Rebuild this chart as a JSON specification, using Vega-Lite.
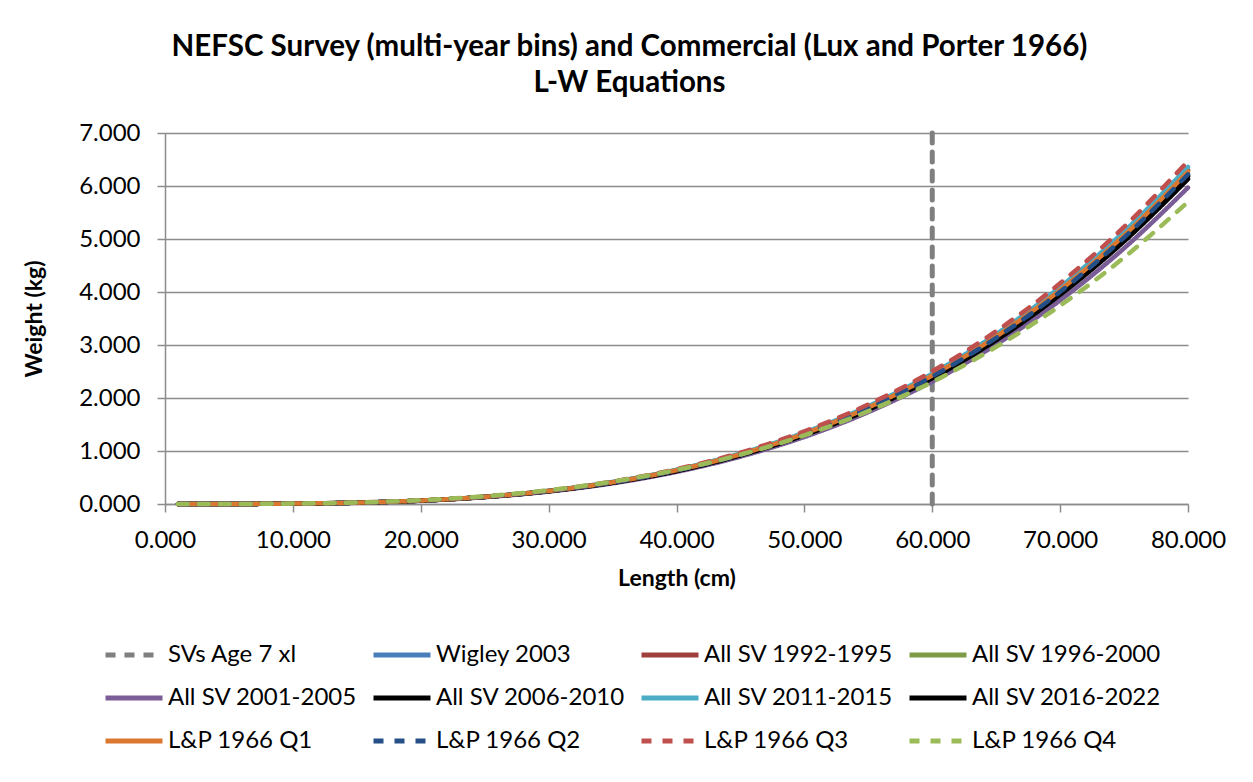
{
  "$schema": "https://vega.github.io/schema/vega-lite/v6.json",
  "width": 1023,
  "height": 371,
  "autosize": {"type": "none"},
  "padding": {"left": 165, "top": 133, "right": 65, "bottom": 278},
  "background": "white",
  "title": {
    "text": ["NEFSC Survey (multi-year bins) and Commercial (Lux and Porter 1966)", "L-W Equations"],
    "fontSize": 29.5,
    "fontWeight": "bold",
    "font": "Lato",
    "lineHeight": 36,
    "anchor": "middle",
    "frame": "group",
    "dx": -47,
    "offset": 23,
    "color": "black"
  },
  "datasets": {
    "curves": [
      {"L": 1, "Wigley 2003": 0, "All SV 1992-1995": 0, "All SV 1996-2000": 0, "All SV 2001-2005": 0, "All SV 2006-2010": 0, "All SV 2011-2015": 0, "All SV 2016-2022": 0, "L&P 1966 Q1": 0, "L&P 1966 Q2": 0, "L&P 1966 Q3": 0, "L&P 1966 Q4": 0},
      {"L": 5, "Wigley 2003": 0.001, "All SV 1992-1995": 0.001, "All SV 1996-2000": 0.001, "All SV 2001-2005": 0.001, "All SV 2006-2010": 0.001, "All SV 2011-2015": 0.001, "All SV 2016-2022": 0.001, "L&P 1966 Q1": 0.001, "L&P 1966 Q2": 0.001, "L&P 1966 Q3": 0.001, "L&P 1966 Q4": 0.001},
      {"L": 10, "Wigley 2003": 0.006, "All SV 1992-1995": 0.007, "All SV 1996-2000": 0.006, "All SV 2001-2005": 0.006, "All SV 2006-2010": 0.006, "All SV 2011-2015": 0.007, "All SV 2016-2022": 0.006, "L&P 1966 Q1": 0.007, "L&P 1966 Q2": 0.007, "L&P 1966 Q3": 0.007, "L&P 1966 Q4": 0.008},
      {"L": 15, "Wigley 2003": 0.025, "All SV 1992-1995": 0.025, "All SV 1996-2000": 0.025, "All SV 2001-2005": 0.024, "All SV 2006-2010": 0.024, "All SV 2011-2015": 0.025, "All SV 2016-2022": 0.025, "L&P 1966 Q1": 0.025, "L&P 1966 Q2": 0.025, "L&P 1966 Q3": 0.026, "L&P 1966 Q4": 0.029},
      {"L": 20, "Wigley 2003": 0.064, "All SV 1992-1995": 0.065, "All SV 1996-2000": 0.064, "All SV 2001-2005": 0.062, "All SV 2006-2010": 0.063, "All SV 2011-2015": 0.066, "All SV 2016-2022": 0.064, "L&P 1966 Q1": 0.065, "L&P 1966 Q2": 0.064, "L&P 1966 Q3": 0.067, "L&P 1966 Q4": 0.072},
      {"L": 25, "Wigley 2003": 0.133, "All SV 1992-1995": 0.136, "All SV 1996-2000": 0.133, "All SV 2001-2005": 0.129, "All SV 2006-2010": 0.132, "All SV 2011-2015": 0.137, "All SV 2016-2022": 0.133, "L&P 1966 Q1": 0.135, "L&P 1966 Q2": 0.134, "L&P 1966 Q3": 0.139, "L&P 1966 Q4": 0.146},
      {"L": 30, "Wigley 2003": 0.244, "All SV 1992-1995": 0.248, "All SV 1996-2000": 0.244, "All SV 2001-2005": 0.235, "All SV 2006-2010": 0.241, "All SV 2011-2015": 0.25, "All SV 2016-2022": 0.243, "L&P 1966 Q1": 0.246, "L&P 1966 Q2": 0.244, "L&P 1966 Q3": 0.254, "L&P 1966 Q4": 0.259},
      {"L": 35, "Wigley 2003": 0.405, "All SV 1992-1995": 0.412, "All SV 1996-2000": 0.405, "All SV 2001-2005": 0.39, "All SV 2006-2010": 0.401, "All SV 2011-2015": 0.416, "All SV 2016-2022": 0.404, "L&P 1966 Q1": 0.41, "L&P 1966 Q2": 0.406, "L&P 1966 Q3": 0.423, "L&P 1966 Q4": 0.422},
      {"L": 40, "Wigley 2003": 0.629, "All SV 1992-1995": 0.64, "All SV 1996-2000": 0.629, "All SV 2001-2005": 0.606, "All SV 2006-2010": 0.622, "All SV 2011-2015": 0.646, "All SV 2016-2022": 0.627, "L&P 1966 Q1": 0.637, "L&P 1966 Q2": 0.632, "L&P 1966 Q3": 0.657, "L&P 1966 Q4": 0.642},
      {"L": 45, "Wigley 2003": 0.929, "All SV 1992-1995": 0.944, "All SV 1996-2000": 0.929, "All SV 2001-2005": 0.894, "All SV 2006-2010": 0.918, "All SV 2011-2015": 0.953, "All SV 2016-2022": 0.926, "L&P 1966 Q1": 0.939, "L&P 1966 Q2": 0.932, "L&P 1966 Q3": 0.969, "L&P 1966 Q4": 0.931},
      {"L": 50, "Wigley 2003": 1.315, "All SV 1992-1995": 1.336, "All SV 1996-2000": 1.315, "All SV 2001-2005": 1.266, "All SV 2006-2010": 1.3, "All SV 2011-2015": 1.349, "All SV 2016-2022": 1.31, "L&P 1966 Q1": 1.329, "L&P 1966 Q2": 1.319, "L&P 1966 Q3": 1.372, "L&P 1966 Q4": 1.297},
      {"L": 55, "Wigley 2003": 1.8, "All SV 1992-1995": 1.83, "All SV 1996-2000": 1.8, "All SV 2001-2005": 1.734, "All SV 2006-2010": 1.78, "All SV 2011-2015": 1.847, "All SV 2016-2022": 1.795, "L&P 1966 Q1": 1.821, "L&P 1966 Q2": 1.806, "L&P 1966 Q3": 1.879, "L&P 1966 Q4": 1.751},
      {"L": 60, "Wigley 2003": 2.399, "All SV 1992-1995": 2.438, "All SV 1996-2000": 2.399, "All SV 2001-2005": 2.31, "All SV 2006-2010": 2.372, "All SV 2011-2015": 2.461, "All SV 2016-2022": 2.392, "L&P 1966 Q1": 2.426, "L&P 1966 Q2": 2.407, "L&P 1966 Q3": 2.504, "L&P 1966 Q4": 2.303},
      {"L": 65, "Wigley 2003": 3.125, "All SV 1992-1995": 3.175, "All SV 1996-2000": 3.125, "All SV 2001-2005": 3.009, "All SV 2006-2010": 3.09, "All SV 2011-2015": 3.205, "All SV 2016-2022": 3.115, "L&P 1966 Q1": 3.16, "L&P 1966 Q2": 3.135, "L&P 1966 Q3": 3.261, "L&P 1966 Q4": 2.964},
      {"L": 70, "Wigley 2003": 3.991, "All SV 1992-1995": 4.055, "All SV 1996-2000": 3.991, "All SV 2001-2005": 3.843, "All SV 2006-2010": 3.946, "All SV 2011-2015": 4.094, "All SV 2016-2022": 3.978, "L&P 1966 Q1": 4.036, "L&P 1966 Q2": 4.003, "L&P 1966 Q3": 4.164, "L&P 1966 Q4": 3.743},
      {"L": 75, "Wigley 2003": 5.011, "All SV 1992-1995": 5.092, "All SV 1996-2000": 5.011, "All SV 2001-2005": 4.825, "All SV 2006-2010": 4.954, "All SV 2011-2015": 5.14, "All SV 2016-2022": 4.995, "L&P 1966 Q1": 5.067, "L&P 1966 Q2": 5.027, "L&P 1966 Q3": 5.229, "L&P 1966 Q4": 4.651},
      {"L": 80, "Wigley 2003": 6.2, "All SV 1992-1995": 6.3, "All SV 1996-2000": 6.2, "All SV 2001-2005": 5.97, "All SV 2006-2010": 6.13, "All SV 2011-2015": 6.36, "All SV 2016-2022": 6.18, "L&P 1966 Q1": 6.27, "L&P 1966 Q2": 6.22, "L&P 1966 Q3": 6.47, "L&P 1966 Q4": 5.7}
    ],
    "vline": [
      {"series": "SVs Age 7 xl", "L": 60, "W": 0},
      {"series": "SVs Age 7 xl", "L": 60, "W": 7}
    ]
  },
  "encoding": {
    "x": {
      "field": "L", "type": "quantitative",
      "scale": {"domain": [0, 80], "nice": false, "zero": false},
      "axis": {"title": "Length (cm)", "values": [0, 10, 20, 30, 40, 50, 60, 70, 80], "format": ".3f", "grid": false, "labelFlush": false, "labelPadding": 16, "titlePadding": 15}
    },
    "y": {
      "field": "W", "type": "quantitative",
      "scale": {"domain": [0, 7], "nice": false},
      "axis": {"title": "Weight (kg)", "values": [0, 1, 2, 3, 4, 5, 6, 7], "format": ".3f", "grid": true, "labelFlush": false, "labelPadding": 17, "titlePadding": 32}
    },
    "color": {
      "field": "series", "type": "nominal",
      "scale": {
        "domain": ["SVs Age 7 xl", "Wigley 2003", "All SV 1992-1995", "All SV 1996-2000", "All SV 2001-2005", "All SV 2006-2010", "All SV 2011-2015", "All SV 2016-2022", "L&P 1966 Q1", "L&P 1966 Q2", "L&P 1966 Q3", "L&P 1966 Q4"],
        "range": ["#7f7f7f", "#4a7ebb", "#a0403d", "#7e9c45", "#7a5c96", "#000000", "#4bacc6", "#000000", "#d9782e", "#244f87", "#c0504d", "#9bbb59"]
      },
      "legend": {
        "title": null,
        "orient": "none",
        "legendX": -62,
        "legendY": 491,
        "columns": 4,
        "direction": "horizontal",
        "symbolType": "stroke",
        "symbolSize": 3249,
        "symbolStrokeWidth": 5,
        "labelFontSize": 24,
        "labelFont": "Lato",
        "labelColor": "black",
        "labelOffset": 3,
        "rowPadding": -19,
        "columnPadding": 5,
        "labelLimit": 400
      }
    },
    "strokeDash": {
      "field": "series", "type": "nominal",
      "scale": {
        "domain": ["SVs Age 7 xl", "Wigley 2003", "All SV 1992-1995", "All SV 1996-2000", "All SV 2001-2005", "All SV 2006-2010", "All SV 2011-2015", "All SV 2016-2022", "L&P 1966 Q1", "L&P 1966 Q2", "L&P 1966 Q3", "L&P 1966 Q4"],
        "range": [[10, 9], [1, 0], [1, 0], [1, 0], [1, 0], [1, 0], [1, 0], [1, 0], [1, 0], [10, 11], [10, 11], [10, 11]]
      },
      "legend": null
    }
  },
  "layer": [
    {
      "data": {"name": "vline"},
      "mark": {"type": "line", "strokeWidth": 5, "strokeCap": "round"},
      "encoding": {"order": {"field": "W", "type": "quantitative"}}
    },
    {
      "data": {"name": "curves"},
      "transform": [
        {"fold": ["Wigley 2003", "All SV 1992-1995", "All SV 1996-2000", "All SV 2001-2005", "All SV 2006-2010", "All SV 2011-2015", "All SV 2016-2022", "L&P 1966 Q1", "L&P 1966 Q2", "L&P 1966 Q3", "L&P 1966 Q4"], "as": ["series", "W"]}
      ],
      "mark": {"type": "line", "strokeWidth": 4.5, "strokeCap": "round", "interpolate": "monotone"},
      "encoding": {}
    }
  ],
  "config": {
    "font": "Lato",
    "view": {"stroke": null},
    "axis": {
      "labelFont": "Lato", "labelFontSize": 24, "labelColor": "black",
      "titleFont": "Lato", "titleFontSize": 23, "titleFontWeight": "bold", "titleColor": "black",
      "gridColor": "#8c8c8c", "gridWidth": 1.5, "domainColor": "#8c8c8c", "domainWidth": 1.5,
      "tickColor": "#8c8c8c", "tickSize": 8, "tickWidth": 1.5
    }
  }
}
